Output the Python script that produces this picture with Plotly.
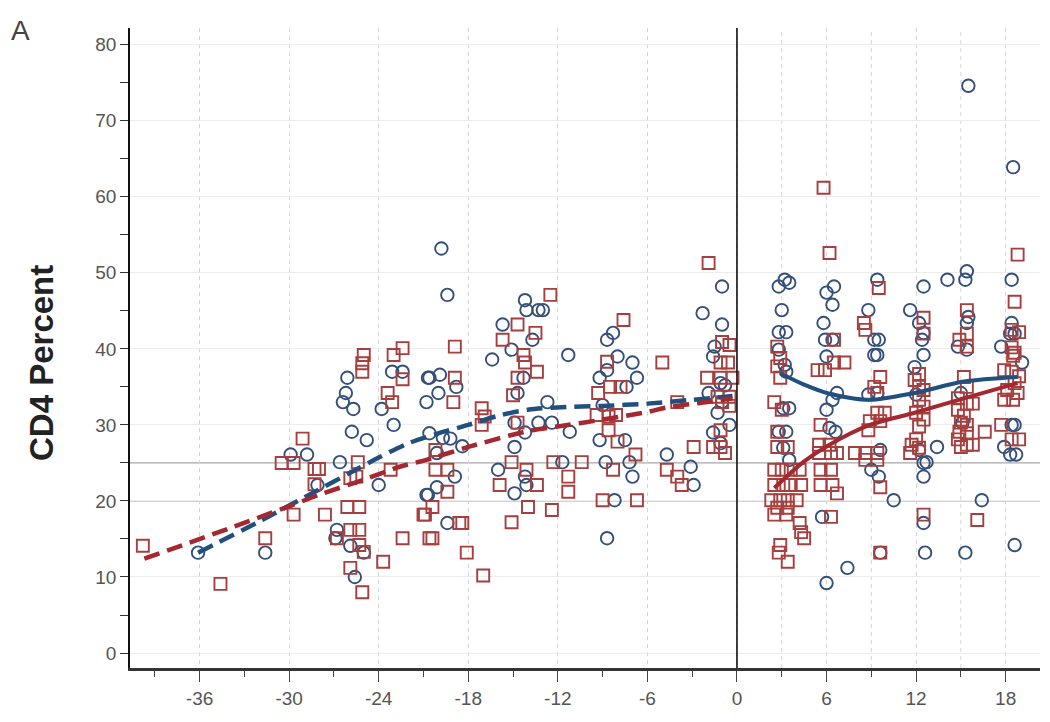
import plotly.graph_objects as go

# ---------------- data ----------------
blue_x = [-36.1, -31.6, -29.9, -28.8, -28.1,
          -26.1, -26.2, -26.4, -25.7, -25.8, -24.8,
          -23.1, -22.4, -23.8, -23.0, -20.7, -20.8,
          -26.6, -24.0, -20.8,
          -26.8, -26.9, -25.9, -25.0, -25.6,
          -19.8, -19.4, -20.6, -19.9, -18.8, -20.0,
          -20.6, -19.7, -19.2, -18.4, -20.1, -18.9, -20.1, -20.7, -19.4,
          -16.4, -15.7, -15.1, -14.2, -14.1, -13.3, -13.0, -13.7, -11.3, -14.3, -14.7, -12.7,
          -14.9, -13.3, -12.4, -14.2, -14.9, -11.2, -16.0, -14.2, -14.1, -14.9, -11.7,
          -8.7, -8.3, -8.0, -9.2, -8.7, -7.0, -6.7, -7.4, -9.0, -9.2, -7.5, -8.8, -7.2, -7.0, -8.2, -8.7,
          -4.7, -3.1, -2.9, -2.3, -1.0, -1.0, -1.5, -1.6, -1.9, -1.3, -0.5, -1.6, -1.1, -1.0, -1.1, -0.8,
          2.8, 3.2, 3.5, 3.0, 2.8, 3.3, 2.8, 3.2, 3.3, 3.1, 3.5, 2.8, 3.3, 3.1, 3.5,
          6.0, 6.5, 6.4, 5.8, 5.9, 6.4, 6.0, 6.7, 6.4, 6.0, 6.2, 6.6, 5.7, 6.0, 7.4,
          9.4, 8.8, 9.2, 9.5, 9.2, 9.4, 8.8, 9.4, 9.6, 9.0, 9.5, 10.5, 9.6,
          11.6, 12.2, 12.5, 12.5, 12.4, 12.5, 11.9, 12.0, 12.2, 12.5, 12.5, 12.5, 12.6, 13.4, 12.7,
          14.1, 15.4, 15.3, 15.5, 15.4, 14.8, 15.4, 15.5, 15.3, 16.4, 15.1, 15.0,
          18.4, 18.4, 18.3, 18.6, 17.7, 19.1, 18.4, 18.6, 17.9, 18.3, 18.7, 18.6, 18.5]
blue_y = [13.2, 13.2, 26.1, 26.1, 22.1,
          36.2, 34.2, 33.0, 32.1, 29.1, 28.0,
          37.0, 37.0, 32.1, 30.0, 36.2, 33.0,
          25.1, 22.1, 20.8,
          16.2, 15.1, 14.1, 13.2, 10.0,
          53.2, 47.1, 36.2, 36.6, 35.0, 34.2,
          28.9, 28.3, 28.2, 27.2, 26.3, 23.2, 21.8, 20.8, 17.1,
          38.6, 43.2, 39.9, 46.4, 45.1, 45.1, 45.1, 41.2, 39.2, 36.2, 34.2, 33.0,
          30.3, 30.3, 30.3, 29.0, 27.1, 29.1, 24.1, 23.2, 22.1, 21.0, 25.1,
          41.2, 42.1, 39.0, 36.2, 37.2, 38.2, 36.2, 35.0, 32.6, 28.0, 28.0, 25.1, 25.1, 23.2, 20.1, 15.1,
          26.1, 24.5, 22.1, 44.7, 48.2, 43.2, 40.3, 39.0, 34.2, 31.6, 30.0, 29.0, 27.6, 33.0, 35.5, 35.2,
          48.2, 49.1, 48.7, 45.1, 42.2, 42.2, 39.9, 37.9, 37.0, 32.2, 32.2, 29.1, 29.1, 27.0, 25.4,
          47.4, 48.2, 45.8, 43.4, 41.2, 41.2, 39.0, 34.2, 33.3, 32.0, 29.6, 29.1, 17.9, 9.2, 11.2,
          49.1, 45.1, 41.2, 41.2, 39.2, 39.2, 34.0, 34.2, 26.7, 24.1, 23.2, 20.1, 13.2,
          45.1, 43.4, 48.2, 42.1, 41.2, 39.2, 37.6, 34.0, 26.7, 25.0, 23.2, 17.1, 13.2, 27.1, 25.1,
          49.1, 50.2, 49.1, 44.2, 43.4, 40.3, 39.9, 74.6, 13.2, 20.1, 30.3, 34.2,
          49.1, 43.4, 42.0, 42.0, 40.3, 38.2, 30.0, 30.0, 27.1, 26.1, 26.1, 14.2, 63.9]

red_x = [-39.8, -34.6, -31.6, -29.1, -30.5, -29.7, -29.7, -28.3, -28.0, -28.3, -27.6,
         -26.1, -25.3, -25.9, -25.3, -26.8, -25.3, -25.9, -25.1, -25.0, -25.4, -25.5, -25.9,
         -25.0, -25.1, -25.1, -23.0, -22.4, -22.4, -23.4, -23.1, -23.2, -23.7, -22.4, -21.0, -20.6,
         -18.9, -18.9, -19.0, -20.2, -20.2, -19.4, -19.4, -20.4, -20.9, -20.4, -18.4, -18.1, -18.6,
         -17.1, -16.9, -17.1, -17.0,
         -14.7, -15.7, -13.5, -12.5, -14.3, -14.2, -13.4, -14.7, -15.0, -14.7, -15.1, -14.1,
         -15.9, -13.4, -14.0, -12.4, -15.1, -12.3, -11.3, -11.3, -10.4,
         -7.6, -8.7, -9.3, -8.5, -7.8, -9.4, -8.6, -8.1, -8.6, -8.0, -6.8, -8.3, -9.0, -6.7,
         -5.0, -4.0, -2.9, -4.7, -4.0, -3.7, -1.9, -2.0, -1.0, -0.5, -1.1, -0.6, -1.1, -0.3,
         -1.3, -0.5, -1.0, -0.5, -1.1, -1.1, -0.8, -1.6,
         2.7, 2.9, 2.7, 2.9, 2.5, 3.0, 2.7, 2.7, 3.4, 2.5, 3.0, 3.6, 4.2, 2.5, 3.1, 3.6, 4.3,
         2.3, 2.9, 3.4, 4.0, 2.7, 3.4, 2.5, 3.3, 4.2, 4.3, 4.5, 2.9, 2.8, 3.4,
         5.4, 5.9, 6.5, 7.2, 6.5, 6.2, 5.8, 5.6, 5.5, 6.2, 5.5, 6.3, 6.7, 5.6, 6.3, 5.6, 6.4, 6.7, 6.3,
         8.5, 8.6, 9.5, 9.6, 9.2, 9.4, 9.4, 9.9, 8.9, 9.6, 8.8, 7.9, 8.6, 9.4, 8.6, 9.4, 9.6, 9.6,
         12.5, 12.5, 12.2, 11.9, 12.2, 12.5, 12.2, 12.5, 12.0, 12.5, 12.2, 12.0, 11.7, 12.2, 11.6, 12.5,
         15.4, 15.4, 14.9, 15.4, 15.2, 15.4, 14.8, 15.4, 14.8, 15.2, 15.0, 15.4, 14.9, 15.4, 14.8,
         15.4, 15.0, 15.8, 15.8, 16.6, 16.1,
         18.8, 18.6, 18.4, 18.9, 18.4, 18.6, 18.5, 17.9, 18.4, 18.9, 18.6, 18.1, 18.8, 17.9, 18.5,
         17.7, 18.4, 18.9]
red_y = [14.1, 9.1, 15.1, 28.2, 25.0, 25.0, 18.2, 24.2, 24.2, 22.2, 18.2,
         19.2, 19.2, 16.2, 16.2, 15.1, 14.2, 11.2, 8.0, 13.3, 25.1, 23.2, 23.0,
         39.2, 38.1, 37.0, 39.2, 40.1, 36.0, 34.2, 33.0, 24.1, 12.0, 15.1, 18.2, 15.1,
         40.3, 36.2, 33.0, 26.7, 24.1, 24.1, 21.2, 19.2, 18.2, 15.1, 17.1, 13.2, 17.1,
         32.2, 31.1, 30.0, 10.2,
         43.2, 41.2, 42.1, 47.1, 39.2, 38.2, 37.0, 36.2, 33.9, 30.3, 25.1, 24.1,
         22.1, 22.1, 19.2, 18.8, 17.2, 25.1, 23.2, 21.2, 25.1,
         43.8, 38.3, 34.2, 35.0, 35.0, 31.3, 31.1, 31.3, 29.3, 27.8, 26.1, 24.1, 20.1, 20.1,
         38.2, 33.0, 27.1, 24.1, 23.2, 22.1, 51.3, 36.2, 40.9, 40.5, 38.2, 38.2, 36.2, 36.2,
         33.7, 33.7, 33.0, 32.5, 29.3, 27.1, 26.3, 27.1,
         40.3, 38.8, 37.7, 36.2, 33.0, 32.0, 29.1, 27.1, 27.1, 24.1, 24.1, 24.1, 24.1, 22.1, 22.1, 22.1, 22.1,
         20.1, 20.1, 20.1, 20.1, 19.1, 19.1, 18.2, 18.2, 17.1, 15.9, 15.1, 14.2, 13.2, 12.0,
         37.2, 37.2, 38.2, 38.2, 41.2, 52.6, 61.2, 30.0, 27.4, 27.4, 26.3, 26.3, 26.3, 24.1, 24.1, 22.1, 22.1, 21.0, 17.9,
         43.4, 42.5, 48.0, 36.3, 35.0, 34.2, 31.6, 31.6, 30.5, 30.5, 29.3, 26.3, 26.3, 26.3, 25.4, 25.4, 21.8, 13.2,
         44.1, 42.0, 36.7, 35.9, 35.0, 34.6, 33.3, 32.4, 31.6, 30.7, 29.8, 28.1, 27.4, 27.0, 26.3, 18.2,
         45.1, 42.0, 41.2, 40.3, 36.3, 35.0, 33.5, 32.8, 32.0, 31.2, 30.3, 30.0, 29.1, 28.9, 28.1,
         27.4, 27.1, 27.4, 32.8, 29.1, 17.5,
         52.4, 46.2, 42.5, 42.2, 40.2, 39.5, 39.1, 37.2, 37.0, 36.4, 35.5, 34.6, 34.2, 33.3, 33.3,
         30.0, 28.1, 28.1]

# smoothed trend curves
blue_pre_x = [-36.1, -32, -28, -26, -24, -22, -20, -18, -16, -14, -12, -9, -6, -3, -0.3]
blue_pre_y = [13.2, 17.3, 21.5, 23.6, 25.7, 27.6, 28.9, 30.0, 31.2, 32.0, 32.3, 32.5, 32.8, 33.3, 33.8]
red_pre_x = [-39.7, -34, -30, -28, -25, -22.6, -20.8, -18, -14, -12, -9, -6, -4.7, -2, -0.3]
red_pre_y = [12.4, 16.4, 19.3, 20.8, 22.8, 24.5, 25.4, 27.1, 29.2, 29.8, 30.7, 31.7, 32.3, 33.0, 33.5]
blue_post_x = [2.9, 4.5, 6.2, 8.9, 11.9, 15.2, 18.8]
blue_post_y = [36.8, 35.3, 34.1, 33.3, 34.2, 35.7, 36.3]
red_post_x = [2.5, 4.5, 6.2, 8.9, 11.9, 15.2, 18.8]
red_post_y = [21.7, 25.2, 27.4, 30.0, 31.6, 33.5, 35.5]

x_ticks = [-36, -30, -24, -18, -12, -6, 0, 6, 12, 18]
y_ticks = [0, 10, 20, 30, 40, 50, 60, 70, 80]
ref_levels = [20, 25]
extra_grid_x = [3, 9, 15]

BLUE = "#34507a"
RED = "#a63f3d"
BLUE_LINE = "#22507e"
RED_LINE = "#a3282f"

fig = go.Figure()
fig.add_trace(go.Scatter(x=blue_x, y=blue_y, mode="markers",
                         marker=dict(symbol="circle-open", size=12.5, color=BLUE,
                                     line=dict(width=1.9, color=BLUE)),
                         showlegend=False, hoverinfo="skip"))
fig.add_trace(go.Scatter(x=red_x, y=red_y, mode="markers",
                         marker=dict(symbol="square-open", size=12, color=RED,
                                     line=dict(width=1.9, color=RED)),
                         showlegend=False, hoverinfo="skip"))
fig.add_trace(go.Scatter(x=blue_pre_x, y=blue_pre_y, mode="lines",
                         line=dict(color=BLUE_LINE, width=4.5, dash="16px,8px",
                                   shape="spline", smoothing=0.8),
                         showlegend=False))
fig.add_trace(go.Scatter(x=red_pre_x, y=red_pre_y, mode="lines",
                         line=dict(color=RED_LINE, width=4.5, dash="16px,8px",
                                   shape="spline", smoothing=0.8),
                         showlegend=False))
fig.add_trace(go.Scatter(x=blue_post_x, y=blue_post_y, mode="lines",
                         line=dict(color=BLUE_LINE, width=4, shape="spline", smoothing=0.8),
                         showlegend=False))
fig.add_trace(go.Scatter(x=red_post_x, y=red_post_y, mode="lines",
                         line=dict(color=RED_LINE, width=4, shape="spline", smoothing=0.8),
                         showlegend=False))

shapes = []
for gx in extra_grid_x:
    shapes.append(dict(type="line", xref="x", yref="paper", x0=gx, x1=gx, y0=0, y1=1,
                       line=dict(color="#d6d6d6", width=1, dash="4px,4px"), layer="below"))
for lv in ref_levels:
    shapes.append(dict(type="line", xref="paper", yref="y", x0=0, x1=1, y0=lv, y1=lv,
                       line=dict(color="#a8a8a8", width=1.2), layer="below"))
shapes.append(dict(type="line", xref="x", yref="paper", x0=0, x1=0, y0=0, y1=1,
                   line=dict(color="#111111", width=1.6), layer="above"))

# page has an 8px body margin: figure is sized/offset to compensate
fig.update_layout(
    width=1034, height=706,
    margin=dict(l=122, r=2, t=20, b=46),
    paper_bgcolor="white", plot_bgcolor="white",
    font=dict(family="Liberation Sans, Arial, sans-serif", color="#555555"),
    shapes=shapes,
    annotations=[
        dict(text="A", xref="paper", yref="paper", x=(9 - 130) / 910, y=(668 - 31) / 640,
             xanchor="left", yanchor="middle", showarrow=False,
             font=dict(size=28, color="#444444", family="Liberation Sans, Arial, sans-serif")),
        dict(text="<b>CD4 Percent</b>", xref="paper", yref="paper", x=(41 - 130) / 910,
             y=(668 - 363) / 640, textangle=-90, xanchor="center", yanchor="middle",
             showarrow=False,
             font=dict(size=33, color="#222222", family="Liberation Sans, Arial, sans-serif")),
    ],
)
fig.update_xaxes(
    range=[-40.66, 20.3], tickmode="array", tickvals=x_ticks,
    ticktext=[str(v) for v in x_ticks],
    ticks="outside", ticklen=11, tickwidth=1.2, tickcolor="#444444",
    minor=dict(dtick=3, tick0=0, ticks="outside", ticklen=6, tickwidth=1.2,
               tickcolor="#444444", showgrid=False),
    showgrid=True, gridcolor="#d6d6d6", griddash="4px,4px", gridwidth=1,
    zeroline=False, showline=True, linecolor="#333333", linewidth=2.5,
    tickfont=dict(size=19, color="#555555"),
)
fig.update_yaxes(
    range=[-1.97, 82.2], tickmode="array", tickvals=y_ticks,
    ticks="outside", ticklen=8, tickwidth=1.2, tickcolor="#333333",
    minor=dict(dtick=5, tick0=0, ticks="outside", ticklen=8, tickwidth=1.2,
               tickcolor="#333333", showgrid=False),
    showgrid=True, gridcolor="#ededed", gridwidth=1,
    zeroline=False, showline=True, linecolor="#111111", linewidth=1.5,
    tickfont=dict(size=19, color="#555555"),
)

fig.write_html("out.html")
